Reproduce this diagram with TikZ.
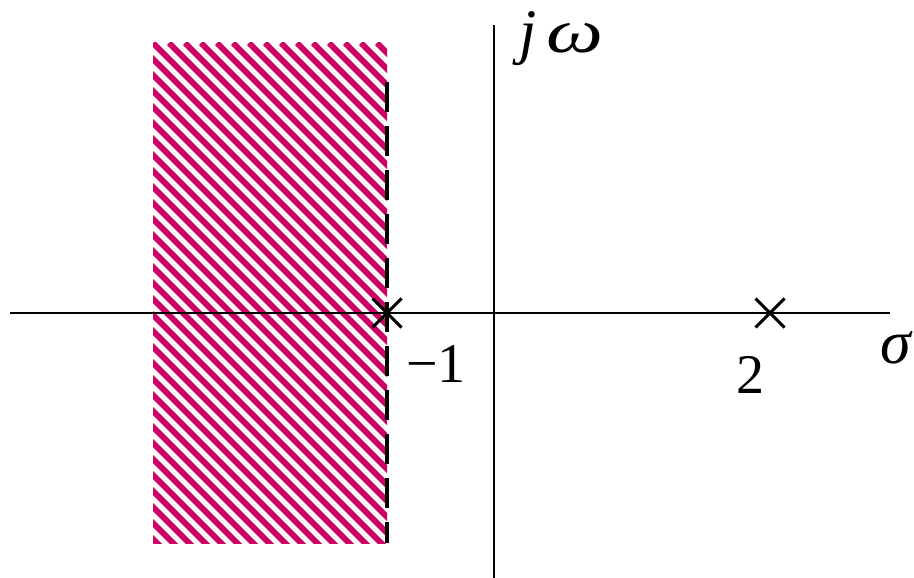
\documentclass[tikz,border=0pt]{standalone}
\usepackage{fontspec}
\usepackage{graphicx}
\setmainfont{Liberation Serif}
\usetikzlibrary{shapes.misc}
\definecolor{hatchc}{RGB}{204,0,102}
\begin{document}
\begin{tikzpicture}[x=1pt,y=-1pt,
  lbl/.style={inner sep=0pt, font=\fontsize{56}{60}\selectfont},
  glbl/.style={inner sep=0pt, font=\fontsize{62}{66}\selectfont},
  pole/.style={cross out, draw, line width=3pt, minimum size=26pt, inner sep=0pt},
  axis/.style={line width=2.5pt},
  stripe/.style={hatchc, line width=5.7pt}]
\useasboundingbox (0,0) rectangle (914,578);
\begin{scope}
  \clip (153,43) rectangle (387,543);
  \foreach \i in {-33,...,16} \draw[stripe] (153+16*\i,43) -- ++(600,600);
\end{scope}
\coordinate (xl) at (10,313);
\coordinate (xr) at (890,313);
\coordinate (yt) at (494,25);
\coordinate (yb) at (494,578);
\coordinate (dt) at (387,82);
\coordinate (db) at (387,543);
\draw[axis] (xl) -- (xr);
\draw[axis, line width=2pt] (yt) -- (yb);
\draw[line width=4pt, dash pattern=on 30pt off 14pt] (dt) -- (db);
\node[pole] (p1) at (387,313) {};
\node[pole] (p2) at (770,313) {};
\node[lbl, anchor=base west] (l1) at (406,382) {−1};
\node[lbl, anchor=base west] (l2) at (736,393) {2};
\node[glbl, anchor=base east] (ls) at (913,363) {\textit{σ}};
\node[glbl, anchor=base west] (lw) at (519,53) {\textit{j}\hspace{10pt}\scalebox{1.3}[1]{\textit{ω}}};
\end{tikzpicture}
\end{document}
